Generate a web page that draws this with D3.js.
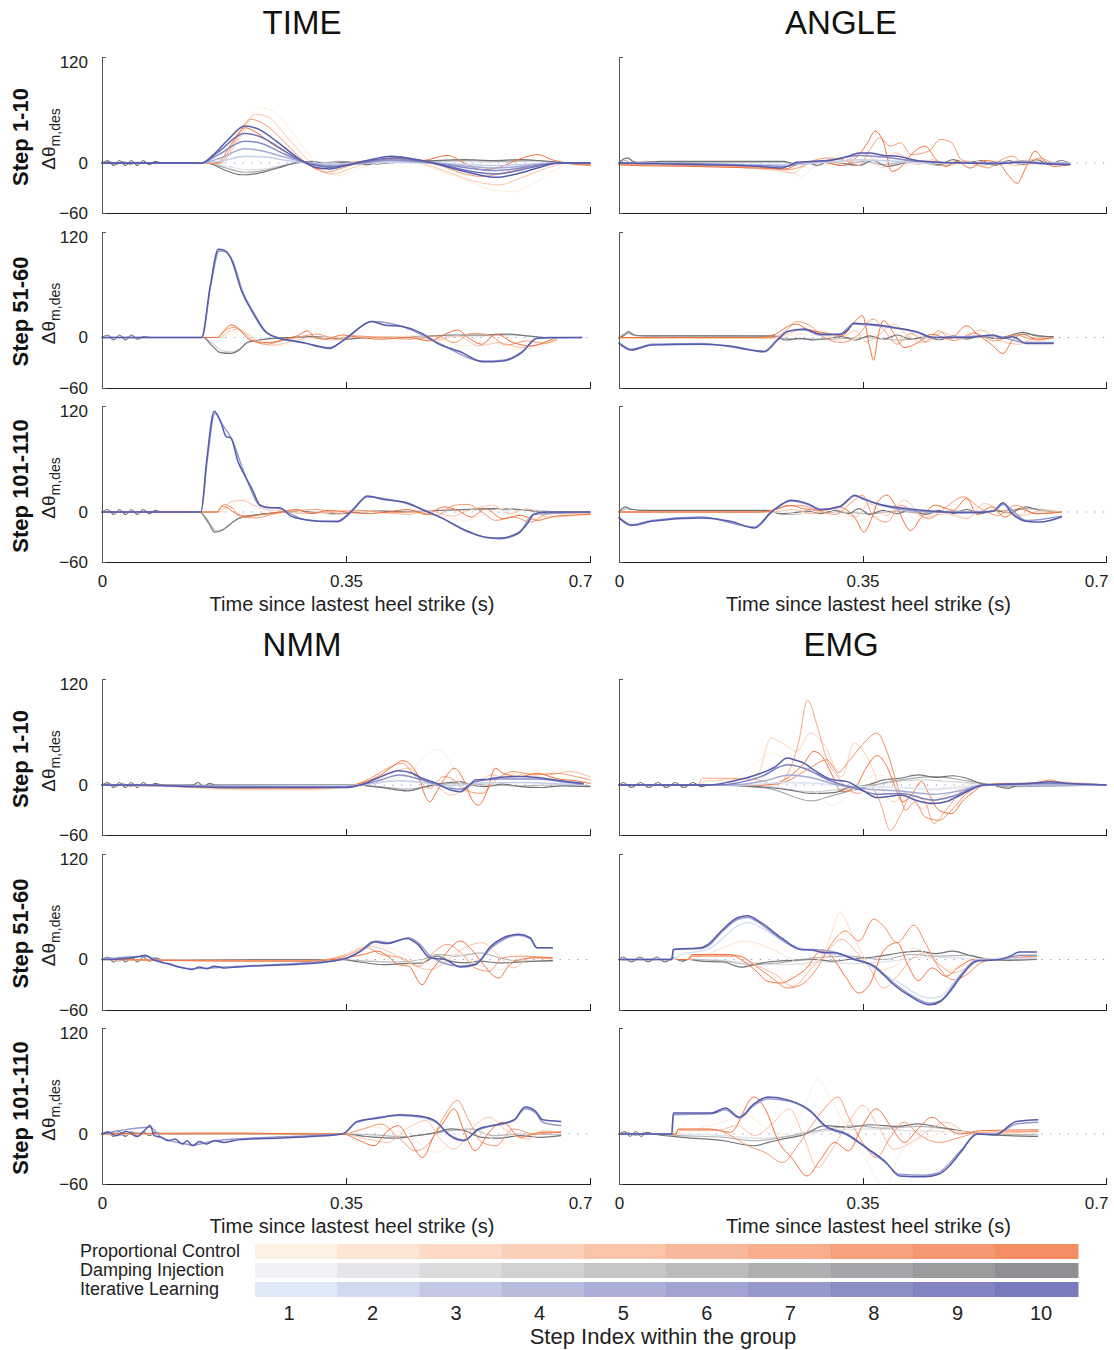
<!DOCTYPE html>
<meta charset="utf-8">
<style>
body { margin: 0; background: #fff; }
svg { font-family: "Liberation Sans", Arial, Helvetica, sans-serif; }
.trace { fill: none; stroke-linejoin: round; stroke-linecap: round; }
.zero { stroke: #8a8fd0; stroke-width: 1.2; stroke-dasharray: 1.2,7.6; }
.axis path, .axis line { stroke: #222; shape-rendering: crispEdges; }
.y.axis path, .y.axis line { stroke: #555; }
.axis text { font-family: "Liberation Sans", Arial, sans-serif; font-size: 17px; fill: #222; }
</style>
<body>
<div id="chart"></div>
</body>
<script src="https://d3js.org/d3.v7.min.js"></script>
<script>

var groups = ["TIME", "ANGLE", "NMM", "EMG"];
var rowLabels = ["Step 1-10", "Step 51-60", "Step 101-110"];
var controllers = ["Proportional Control", "Damping Injection", "Iterative Learning"];
var steps = [1, 2, 3, 4, 5, 6, 7, 8, 9, 10];
var timeTicks = [0, 0.35, 0.7];
var yTicks = [-60, 0, 120];

// traces: [controller (0 PC, 1 DI, 2 IL), step, [t in ms, value, t, value, ...]]
var TIME_1 = [
  [0, 1, [0,0, 172,0, 200,32, 228,66, 248,60, 270,40, 295,12, 318,-10, 340,-15, 365,-8, 400,0, 440,2, 480,-8, 520,-20, 560,-32, 590,-34, 620,-24, 650,-8, 672,0, 700,0]],
  [0, 4, [0,0, 170,0, 195,28, 220,58, 240,54, 262,34, 288,10, 310,-8, 332,-13, 355,-7, 390,2, 430,4, 465,-2, 500,-12, 535,-22, 570,-26, 600,-18, 635,-7, 668,0, 700,-1]],
  [0, 7, [0,0, 168,0, 190,25, 213,52, 235,45, 258,28, 282,8, 302,-5, 322,-11, 345,-6, 375,2, 415,5, 450,2, 485,-3, 515,-12, 545,-16, 575,-12, 605,-6, 630,-2, 665,0, 700,-2]],
  [0, 10, [0,0, 165,0, 185,22, 205,42, 222,36, 245,22, 270,10, 292,0, 312,-7, 335,-4, 360,1, 395,3, 430,7, 460,3, 495,9, 520,0, 545,-8, 570,-5, 600,5, 625,10, 645,4, 665,0, 700,-3]],
  [1, 2, [0,0, 150,0, 180,-4, 208,-8, 236,-7, 262,-2, 290,0, 330,1, 380,0, 430,2, 500,2, 560,1, 620,2, 670,0, 700,0]],
  [1, 6, [0,0, 10,2, 20,-2, 30,2, 40,-2, 50,1, 60,0, 150,0, 178,-6, 205,-11, 232,-9, 258,-4, 282,1, 310,-1, 340,2, 380,-1, 420,1, 470,2, 520,3, 570,2, 620,3, 660,0, 700,-1]],
  [1, 10, [0,0, 8,3, 17,-3, 25,3, 34,-3, 42,3, 51,-3, 59,3, 68,-2, 76,2, 85,0, 150,0, 175,-8, 200,-14, 225,-12, 252,-6, 278,0, 300,2, 325,-1, 350,1, 380,-2, 410,0, 440,2, 480,3, 520,4, 560,3, 600,4, 640,2, 670,0, 700,-1]],
  [2, 2, [0,0, 143,0, 175,3, 205,8, 235,7, 265,3, 300,0, 330,-1, 415,1, 475,0, 565,-3, 655,0, 700,0]],
  [2, 4, [0,0, 143,0, 170,6, 205,17, 232,14, 262,7, 292,1, 330,-3, 415,3, 475,0, 565,-6, 655,0, 700,0]],
  [2, 6, [0,0, 143,0, 165,9, 205,26, 230,23, 258,12, 288,2, 327,-4, 415,4, 475,0, 565,-9, 655,0, 700,0]],
  [2, 8, [0,0, 143,0, 165,12, 205,35, 228,31, 255,18, 285,3, 327,-5, 380,2, 415,6, 475,0, 530,-10, 565,-13, 625,-4, 655,0, 700,0]],
  [2, 10, [0,0, 143,0, 160,10, 180,27, 205,44, 225,40, 250,26, 270,13, 288,2, 305,-5, 327,-7, 350,-3, 380,3, 415,8, 445,5, 475,0, 510,-8, 540,-14, 565,-17, 595,-13, 625,-6, 655,0, 700,0]]
];

var TIME_2 = [
  [0, 1, [0,0, 170,0, 185,5, 198,8, 215,2, 232,-8, 255,-10, 280,-6, 310,-1, 350,1, 400,-1, 450,2, 490,-4, 520,-10, 555,-4, 590,-14, 620,-12, 652,-5]],
  [0, 4, [0,0, 168,0, 182,7, 195,10, 210,3, 225,-6, 248,-9, 270,-5, 300,0, 330,-3, 360,0, 400,1, 450,0, 480,-3, 510,2, 540,-10, 570,-6, 600,-12, 630,-8, 652,-3]],
  [0, 7, [0,0, 165,0, 178,9, 190,12, 202,6, 215,-3, 235,-8, 258,-4, 285,1, 310,4, 335,-2, 360,2, 400,0, 445,-2, 480,2, 505,-6, 530,5, 555,3, 580,-9, 610,-4, 635,-7, 652,-2]],
  [0, 10, [0,0, 165,0, 175,8, 185,15, 197,10, 207,0, 220,-5, 240,-6, 262,-2, 280,2, 295,8, 305,0, 320,-2, 345,3, 370,0, 400,-2, 440,0, 470,-4, 495,5, 510,9, 525,0, 545,-8, 565,4, 590,-6, 615,-10, 640,-4, 652,0]],
  [1, 3, [0,0, 145,0, 160,-8, 172,-16, 188,-17, 200,-12, 212,-5, 235,-2, 270,0, 320,1, 360,-1, 420,1, 480,2, 540,2, 590,3, 640,0, 688,0]],
  [1, 10, [0,0, 8,3, 17,-3, 25,3, 34,-3, 42,3, 51,-2, 60,1, 70,0, 145,0, 158,-10, 170,-18, 185,-19, 198,-14, 208,-6, 225,-3, 245,-1, 270,0, 300,1, 330,-1, 350,-2, 380,0, 420,0, 460,1, 500,3, 540,3, 580,4, 610,2, 640,0, 688,0]],
  [2, 5, [0,0, 143,0, 156,62, 168,103, 177,102, 187,92, 202,54, 218,29, 235,7, 252,0, 293,-7, 327,-12, 352,0, 387,19, 431,13, 481,-6, 547,-28, 575,-27, 602,-17, 624,-1, 688,0]],
  [2, 10, [0,0, 143,0, 155,60, 167,105, 175,104, 185,94, 200,56, 216,30, 233,8, 250,0, 275,-4, 293,-7, 312,-11, 327,-13, 340,-7, 352,0, 368,11, 387,19, 404,15, 431,13, 459,5, 481,-7, 514,-17, 547,-29, 575,-28, 602,-18, 624,-1, 641,0, 688,0]]
];

var TIME_3 = [
  [0, 1, [0,0, 170,0, 190,10, 210,16, 228,12, 250,4, 280,1, 310,-2, 340,0, 380,1, 420,-2, 460,0, 490,-6, 520,-10, 550,-2, 580,5, 610,-8, 640,-3, 700,-1]],
  [0, 4, [0,0, 168,0, 185,12, 200,14, 218,8, 235,3, 260,1, 290,-2, 320,0, 360,2, 400,0, 440,-3, 470,2, 500,-5, 530,3, 560,8, 585,-2, 610,4, 640,-6, 700,-2]],
  [0, 7, [0,0, 165,0, 175,9, 188,4, 200,-6, 222,-7, 248,-2, 275,1, 310,3, 340,-2, 370,2, 410,-1, 450,0, 480,-4, 505,8, 525,9, 545,0, 565,-10, 590,-6, 615,-12, 640,-2, 700,-1]],
  [0, 10, [0,0, 165,0, 172,7, 180,5, 192,-2, 210,-5, 230,-3, 255,0, 280,3, 300,-2, 325,2, 350,0, 380,-2, 410,0, 440,3, 465,-3, 490,6, 510,2, 530,-6, 550,4, 575,-8, 600,-4, 625,-10, 650,-5, 700,-3]],
  [1, 4, [0,0, 140,0, 152,-10, 164,-22, 175,-20, 188,-12, 200,-6, 225,-3, 260,0, 320,0, 380,1, 440,1, 500,2, 560,3, 620,2, 660,0, 700,0]],
  [1, 10, [0,0, 8,3, 17,-3, 25,3, 34,-3, 42,3, 51,-3, 59,3, 68,-2, 76,2, 85,0, 140,0, 152,-12, 162,-24, 172,-22, 183,-15, 195,-8, 208,-5, 225,-3, 250,-1, 280,1, 310,-1, 340,-2, 370,0, 400,1, 440,0, 480,2, 520,3, 560,4, 600,3, 640,-1, 660,0, 700,-1]],
  [2, 5, [0,0, 142,0, 151,62, 162,118, 171,106, 186,87, 206,42, 228,7, 255,4, 290,-9, 338,-12, 360,2, 380,18, 437,10, 487,-7, 525,-24, 570,-32, 597,-26, 619,-3, 700,0]],
  [2, 10, [0,0, 142,0, 150,60, 161,120, 170,108, 178,90, 185,88, 195,60, 205,43, 216,26, 227,8, 240,5, 255,5, 271,-5, 290,-9, 310,-11, 338,-11, 350,-5, 360,3, 372,14, 380,19, 404,15, 437,11, 459,3, 487,-7, 525,-23, 550,-30, 570,-31, 597,-25, 610,-14, 619,-3, 635,0, 700,0]]
];

var ANGLE_1 = [
  [0, 1, [0,-1, 100,-2, 200,-6, 245,-10, 262,-16, 278,-6, 300,-2, 330,2, 360,4, 390,8, 420,0, 450,3, 480,-3, 510,3, 540,-2, 570,1, 600,-2, 625,0, 648,0]],
  [0, 4, [0,-1, 100,-3, 230,-9, 250,-12, 265,-4, 285,1, 305,0, 330,4, 350,12, 365,5, 380,-6, 395,12, 410,8, 430,-2, 450,4, 470,-4, 495,2, 520,-4, 545,2, 570,-3, 600,5, 625,-2, 648,-1]],
  [0, 7, [0,-2, 100,-3, 200,-5, 240,-8, 260,-5, 280,3, 300,6, 325,3, 345,-3, 360,15, 375,30, 390,20, 405,24, 420,10, 445,14, 462,28, 478,24, 492,4, 510,0, 530,-6, 550,4, 565,8, 585,-2, 605,6, 625,0, 648,-1]],
  [0, 10, [0,-2, 20,-3, 100,-4, 200,-6, 240,-7, 255,-2, 275,2, 300,0, 320,-3, 345,10, 358,25, 368,38, 380,25, 392,-10, 405,-5, 420,10, 440,20, 455,5, 470,-4, 485,2, 505,-6, 525,3, 545,0, 560,-15, 572,-24, 585,-5, 598,14, 610,4, 625,-4, 648,-2]],
  [1, 1, [0,0, 30,2, 120,1, 240,0, 300,-2, 360,1, 420,-2, 480,1, 540,2, 600,-1, 648,0]],
  [1, 5, [0,0, 8,3, 20,0, 40,2, 60,0, 120,1, 237,1, 260,-2, 290,2, 320,-3, 350,2, 380,-2, 420,3, 460,-3, 500,2, 540,-2, 580,3, 620,-1, 648,0]],
  [1, 10, [0,0, 5,4, 12,6, 20,2, 30,0, 60,2, 120,2, 200,2, 237,2, 255,-2, 270,1, 285,-3, 300,2, 320,0, 345,-3, 365,3, 385,-4, 410,0, 440,2, 460,-2, 480,4, 500,0, 520,3, 540,-3, 560,3, 580,-2, 600,4, 620,-2, 635,3, 648,0]],
  [2, 2, [0,0, 120,-1, 240,-2, 300,1, 345,4, 380,3, 428,1, 500,0, 648,0]],
  [2, 6, [0,0, 120,-1, 200,-3, 240,-4, 260,0, 300,3, 345,9, 380,7, 428,2, 500,0, 580,1, 648,-1]],
  [2, 10, [0,0, 60,-1, 120,-2, 200,-4, 233,-6, 245,-3, 255,1, 280,2, 309,4, 330,8, 345,12, 360,12, 380,9, 400,8, 428,3, 460,1, 500,0, 540,-1, 580,1, 610,-1, 648,-2]]
];

var ANGLE_2 = [
  [0, 1, [0,0, 230,0, 260,4, 290,2, 330,-4, 360,6, 390,-6, 420,4, 460,-4, 500,5, 540,8, 570,-2, 600,-5, 624,-1]],
  [0, 4, [0,-1, 220,-1, 245,5, 265,10, 290,6, 315,-2, 340,8, 355,-5, 375,4, 395,16, 415,2, 440,-6, 465,6, 490,-2, 520,9, 545,-3, 575,-8, 600,0, 624,-1]],
  [0, 7, [0,0, 220,0, 240,8, 255,19, 275,14, 295,0, 320,-6, 345,4, 365,22, 380,10, 400,-8, 420,5, 440,-5, 460,8, 480,-4, 510,5, 540,-4, 570,3, 600,-3, 624,0]],
  [0, 10, [0,0, 200,0, 225,4, 240,12, 255,16, 270,10, 300,5, 320,2, 340,20, 350,26, 360,-10, 366,-27, 372,0, 380,20, 395,5, 410,-12, 430,-6, 450,4, 475,-2, 500,14, 515,4, 535,-8, 552,-19, 565,-4, 580,4, 600,-2, 624,0]],
  [1, 5, [0,0, 10,5, 25,2, 120,2, 223,1, 250,-2, 300,-2, 350,0, 400,-3, 450,0, 500,1, 550,-1, 581,4, 624,0]],
  [1, 10, [0,-1, 8,3, 13,7, 22,3, 40,2, 120,2, 223,2, 240,-3, 260,-1, 280,-3, 300,-1, 320,1, 340,-3, 360,2, 380,-2, 400,3, 420,-2, 440,1, 460,-3, 480,2, 500,-2, 520,2, 540,-1, 560,2, 581,6, 600,2, 624,1]],
  [2, 5, [0,-6, 18,-14, 47,-8, 118,-7, 209,-16, 228,-2, 245,8, 266,9, 290,3, 318,4, 337,16, 380,13, 428,6, 452,0, 538,2, 585,-6, 624,-6]],
  [2, 10, [0,-7, 18,-15, 47,-9, 118,-8, 160,-10, 209,-17, 228,-3, 242,7, 266,10, 290,4, 318,4, 330,10, 337,17, 357,16, 380,14, 395,12, 428,7, 452,0, 500,0, 538,3, 552,-1, 566,1, 585,-7, 600,-7, 624,-7]]
];

var ANGLE_3 = [
  [0, 1, [0,0, 230,0, 260,-2, 300,2, 340,-10, 370,-5, 400,6, 430,-10, 460,0, 500,-6, 530,4, 560,-4, 600,0, 636,0]],
  [0, 4, [0,0, 220,0, 250,3, 280,-2, 310,4, 340,-6, 360,10, 385,-4, 410,14, 440,-6, 470,-2, 500,-8, 525,10, 555,0, 580,-4, 610,2, 636,0]],
  [0, 7, [0,0, 210,0, 235,6, 260,8, 285,2, 310,-3, 335,12, 350,20, 365,-4, 385,-12, 405,8, 425,0, 445,-8, 470,6, 495,18, 520,4, 545,-4, 570,8, 600,-2, 636,0]],
  [0, 10, [0,0, 200,0, 225,3, 245,8, 265,4, 290,2, 315,6, 340,-8, 352,-24, 362,-10, 372,12, 385,20, 400,4, 419,-22, 435,-6, 455,8, 480,2, 500,16, 515,-3, 535,6, 555,-6, 575,4, 600,-2, 636,0]],
  [1, 5, [0,0, 12,4, 30,2, 120,1, 215,1, 240,-3, 280,-1, 320,0, 360,-2, 400,1, 440,-2, 480,1, 520,0, 560,2, 585,4, 636,0]],
  [1, 10, [0,0, 9,6, 18,3, 40,2, 120,2, 215,2, 230,-2, 250,-1, 270,1, 290,-2, 310,2, 330,-2, 345,4, 360,-3, 380,2, 400,-2, 420,3, 440,-3, 460,2, 480,-2, 500,3, 520,-2, 540,2, 560,-1, 585,6, 605,2, 636,0]],
  [2, 5, [0,-6, 18,-15, 47,-10, 118,-6, 195,-18, 218,0, 247,13, 271,9, 290,3, 318,6, 338,19, 376,8, 452,0, 538,1, 552,9, 585,-10, 636,-5]],
  [2, 10, [0,-7, 18,-16, 47,-11, 118,-7, 160,-11, 195,-19, 218,-1, 232,8, 247,14, 271,10, 290,3, 318,7, 330,15, 338,20, 352,15, 376,9, 404,5, 452,1, 500,-1, 538,1, 552,11, 564,-1, 585,-11, 605,-12, 636,-6]]
];

var NMM_1 = [
  [0, 1, [0,0, 100,-2, 200,-6, 300,-6, 360,-2, 400,4, 440,14, 460,32, 481,42, 498,30, 515,0, 530,-14, 550,-6, 570,8, 600,14, 630,10, 660,18, 690,12, 700,8]],
  [0, 4, [0,0, 100,-2, 200,-5, 300,-5, 360,-1, 400,10, 440,20, 460,6, 481,-2, 500,-12, 520,-6, 540,4, 560,12, 580,8, 610,14, 640,12, 670,16, 700,10]],
  [0, 7, [0,0, 100,-1, 200,-4, 300,-4, 360,0, 385,8, 410,20, 430,26, 450,10, 470,-4, 490,10, 505,6, 520,-6, 545,-10, 565,6, 590,16, 620,12, 650,14, 680,10, 700,6]],
  [0, 10, [0,0, 60,0, 120,-1, 200,-2, 280,-3, 340,-2, 371,2, 400,12, 420,24, 431,29, 445,22, 455,8, 463,-12, 470,-20, 480,-8, 495,12, 505,20, 520,4, 531,-18, 540,-24, 552,-8, 564,20, 575,14, 600,10, 625,14, 650,8, 680,5, 700,2]],
  [1, 5, [0,0, 10,2, 20,-2, 30,2, 40,-2, 50,0, 360,0, 400,-2, 437,-5, 470,-1, 514,2, 550,0, 600,-1, 650,0, 700,-1]],
  [1, 10, [0,0, 8,3, 17,-3, 25,3, 34,-3, 42,3, 51,-3, 59,3, 68,-2, 76,2, 85,0, 130,0, 138,3, 146,-2, 154,2, 162,0, 360,0, 380,-1, 410,-4, 437,-7, 460,-3, 480,1, 500,3, 514,4, 530,0, 550,-2, 575,1, 600,-2, 630,-3, 660,-1, 700,-2]],
  [2, 2, [0,0, 128,-1, 349,-1, 380,1, 426,5, 459,3, 500,-1, 536,2, 600,3, 669,1, 690,0]],
  [2, 6, [0,0, 128,-1, 280,-2, 349,-2, 371,0, 400,6, 426,12, 459,6, 500,-4, 514,-5, 536,4, 569,7, 624,7, 669,3, 690,1]],
  [2, 10, [0,0, 60,0, 128,-2, 200,-3, 280,-3, 349,-3, 371,0, 395,8, 426,17, 445,14, 459,8, 480,2, 500,-6, 514,-8, 525,-2, 536,6, 555,7, 569,9, 600,10, 624,9, 650,6, 669,4, 690,2]]
];

var NMM_2 = [
  [0, 1, [0,0, 200,-1, 300,-2, 360,8, 390,18, 420,12, 450,0, 480,-6, 510,6, 540,-6, 570,-12, 600,4, 646,0]],
  [0, 4, [0,0, 200,-2, 300,-2, 349,6, 380,16, 410,10, 440,-4, 470,-12, 495,-2, 520,14, 545,20, 570,4, 590,-10, 615,2, 646,1]],
  [0, 7, [0,0, 200,-1, 300,-1, 349,4, 380,14, 400,6, 430,2, 455,-8, 475,8, 495,18, 515,8, 535,-10, 555,-14, 575,2, 600,4, 646,2]],
  [0, 10, [0,0, 100,-1, 200,-2, 300,-2, 349,2, 375,6, 395,10, 410,4, 425,-6, 440,-8, 459,-30, 472,-14, 490,4, 514,22, 530,12, 545,-4, 569,-22, 585,-6, 600,0, 620,2, 646,2]],
  [1, 5, [0,0, 12,2, 24,-2, 36,2, 48,0, 340,0, 380,-2, 420,-3, 460,0, 481,6, 510,4, 542,8, 570,2, 600,-2, 646,-2]],
  [1, 10, [0,0, 8,3, 17,-3, 25,3, 34,-3, 42,3, 51,-3, 59,3, 68,-2, 76,2, 85,0, 340,0, 370,-3, 404,-6, 430,-5, 459,-4, 481,4, 500,-2, 520,-4, 542,-2, 570,-4, 600,-3, 646,-1]],
  [2, 5, [0,0, 62,4, 89,-4, 128,-11, 194,-8, 293,-4, 349,1, 375,12, 395,22, 412,20, 440,26, 456,18, 472,3, 514,-8, 536,-5, 560,15, 597,29, 614,25, 624,14, 646,14]],
  [2, 10, [0,0, 30,1, 50,3, 62,5, 73,0, 89,-4, 100,-6, 110,-9, 117,-10, 128,-12, 140,-9, 150,-11, 161,-8, 175,-10, 194,-9, 210,-8, 238,-7, 293,-5, 330,-2, 349,1, 371,10, 390,21, 409,19, 437,25, 453,18, 470,2, 492,0, 514,-9, 536,-6, 558,16, 597,30, 614,26, 624,14, 646,14]]
];

var NMM_3 = [
  [0, 1, [0,0, 200,1, 345,1, 385,8, 420,4, 450,-8, 480,-22, 500,-10, 530,12, 560,-6, 590,-12, 620,4, 658,2]],
  [0, 4, [0,0, 200,0, 345,0, 380,-6, 410,-10, 440,8, 465,16, 485,-6, 505,-18, 530,6, 555,20, 580,4, 610,-6, 635,4, 658,1]],
  [0, 7, [0,0, 200,1, 345,0, 375,6, 400,12, 425,-4, 450,-20, 470,-10, 490,20, 510,40, 525,18, 545,-10, 565,-14, 590,6, 620,0, 658,3]],
  [0, 10, [0,0, 100,1, 200,1, 300,0, 345,0, 370,-8, 390,-14, 410,4, 425,10, 440,-6, 460,-28, 475,-4, 490,14, 505,30, 520,2, 535,-20, 555,2, 575,14, 600,-4, 630,2, 658,2]],
  [1, 5, [0,0, 15,2, 30,-2, 45,2, 60,0, 345,0, 390,-1, 430,-3, 470,0, 500,4, 530,6, 560,-2, 600,0, 658,-1]],
  [1, 10, [0,0, 8,3, 17,-3, 25,3, 34,-3, 42,3, 51,-3, 59,3, 68,-2, 76,2, 85,0, 345,0, 380,-3, 420,-5, 450,-2, 480,2, 500,6, 520,4, 545,-4, 570,-5, 600,-2, 630,-4, 658,-2]],
  [2, 5, [0,0, 69,8, 85,-4, 115,-11, 130,-13, 161,-8, 212,-5, 300,-2, 345,0, 366,14, 427,22, 458,20, 479,14, 499,-1, 519,-7, 540,5, 591,16, 607,30, 622,25, 632,14, 658,10]],
  [2, 10, [0,0, 10,2, 20,-2, 35,3, 50,-3, 62,5, 69,10, 75,-2, 85,-4, 95,-8, 105,-6, 115,-12, 122,-8, 130,-14, 140,-9, 150,-12, 161,-8, 175,-10, 195,-7, 212,-6, 250,-5, 300,-3, 345,0, 366,15, 397,19, 427,23, 458,21, 479,15, 499,-2, 519,-8, 540,6, 560,10, 591,17, 607,32, 622,27, 632,17, 658,15]]
];

var EMG_1 = [
  [0, 1, [0,0, 113,0, 130,4, 170,10, 200,28, 218,38, 240,30, 262,8, 285,-10, 305,-24, 330,-12, 350,4, 375,12, 400,-6, 430,-10, 460,-4, 500,0, 600,2, 700,0]],
  [0, 3, [0,0, 113,0, 125,5, 160,6, 200,14, 218,56, 235,50, 255,40, 275,62, 295,48, 320,10, 338,50, 355,36, 375,0, 395,-20, 415,-8, 435,-28, 455,-18, 480,-8, 510,-2, 560,0, 620,4, 700,0]],
  [0, 6, [0,0, 113,0, 120,8, 150,8, 200,6, 225,0, 240,10, 258,50, 271,101, 285,70, 299,30, 315,10, 330,-6, 345,-10, 360,0, 375,-20, 390,-54, 405,-35, 420,-12, 440,-20, 452,-46, 470,-30, 495,-6, 524,0, 700,0]],
  [0, 8, [0,0, 210,0, 240,4, 270,18, 299,30, 315,15, 330,28, 350,48, 371,62, 385,40, 400,0, 412,-30, 425,-20, 440,-38, 460,-42, 478,-30, 500,-10, 524,0, 600,3, 620,6, 640,2, 700,0]],
  [0, 10, [0,0, 200,0, 225,2, 245,10, 265,25, 280,40, 292,34, 305,14, 320,-8, 340,-2, 355,20, 371,35, 385,22, 395,2, 408,-20, 420,-12, 435,4, 445,-10, 460,-30, 478,-34, 495,-18, 510,-8, 524,0, 560,2, 700,0]],
  [1, 3, [0,0, 128,0, 214,-2, 276,-8, 320,-5, 380,2, 430,6, 480,4, 538,0, 700,0]],
  [1, 6, [0,0, 128,0, 214,-4, 276,-19, 309,-12, 357,-2, 404,6, 455,10, 500,5, 538,0, 560,-2, 700,0]],
  [1, 10, [0,0, 6,3, 18,-3, 31,3, 43,-3, 56,3, 68,-3, 81,3, 93,-3, 106,3, 118,-2, 128,0, 180,-1, 214,-3, 245,-6, 276,-10, 309,-9, 330,-3, 357,0, 380,6, 404,8, 430,12, 455,9, 480,11, 500,8, 520,2, 538,0, 550,-3, 560,-4, 575,0, 700,0]],
  [2, 1, [0,0, 180,0, 240,3, 280,2, 330,-1, 404,-3, 452,-5, 500,-2, 524,0, 700,0]],
  [2, 4, [0,0, 160,0, 210,5, 245,12, 275,9, 310,1, 360,-5, 404,-7, 452,-11, 490,-7, 524,0, 700,0]],
  [2, 7, [0,0, 140,0, 204,10, 242,24, 266,20, 304,5, 340,-4, 371,-11, 404,-10, 452,-18, 481,-13, 524,0, 620,2, 700,0]],
  [2, 10, [0,0, 128,0, 160,4, 204,14, 225,22, 242,32, 252,30, 266,26, 280,18, 304,7, 328,4, 350,-6, 371,-15, 385,-14, 404,-12, 430,-19, 452,-22, 470,-20, 481,-16, 505,-6, 524,0, 595,2, 620,4, 643,2, 700,0]]
];

var EMG_2 = [
  [0, 2, [0,0, 99,0, 115,3, 150,14, 180,22, 210,16, 240,4, 270,-8, 300,18, 318,56, 335,30, 355,0, 375,-12, 400,-6, 425,14, 450,0, 475,-12, 500,-6, 530,0, 600,2]],
  [0, 5, [0,0, 99,0, 110,5, 170,5, 200,-8, 225,-18, 250,-32, 275,-12, 300,10, 320,24, 340,10, 360,-10, 380,-34, 400,-20, 420,0, 440,8, 460,-6, 480,-16, 500,-10, 520,0, 600,3]],
  [0, 8, [0,0, 99,0, 105,4, 170,4, 200,-10, 220,-22, 242,-34, 262,-30, 285,-10, 305,18, 325,34, 345,22, 366,48, 380,40, 400,20, 424,41, 440,20, 460,-10, 480,-24, 500,-18, 520,-4, 540,0, 600,4]],
  [0, 10, [0,0, 99,0, 105,6, 160,6, 175,0, 195,-12, 214,-26, 233,-28, 250,-22, 270,-10, 290,10, 305,4, 325,-20, 345,-40, 360,-30, 380,10, 400,20, 415,-6, 430,-25, 450,-10, 470,-20, 490,-8, 510,0, 600,2]],
  [1, 2, [0,0, 120,0, 180,-3, 240,-6, 290,-3, 340,-5, 390,-2, 440,3, 500,1, 533,0, 600,0]],
  [1, 5, [0,0, 100,0, 150,-2, 190,-6, 230,-4, 280,2, 330,4, 380,0, 420,6, 460,4, 500,5, 533,0, 600,0]],
  [1, 10, [0,0, 6,3, 18,-3, 30,3, 42,-3, 54,3, 66,-3, 78,2, 90,-2, 100,0, 118,-2, 150,-3, 175,-9, 195,-6, 214,-3, 250,-1, 280,0, 309,-2, 338,1, 366,3, 390,6, 404,8, 430,10, 455,7, 480,10, 500,6, 533,0, 560,-1, 600,0]],
  [2, 1, [0,0, 78,0, 90,6, 128,12, 171,40, 185,44, 204,38, 240,20, 280,10, 338,1, 395,-24, 447,-46, 462,-44, 490,-18, 514,0, 600,2]],
  [2, 5, [0,0, 76,0, 78,12, 118,13, 128,16, 147,32, 171,48, 185,50, 204,42, 233,24, 261,12, 280,12, 309,9, 338,1, 366,-7, 395,-28, 419,-42, 447,-52, 462,-49, 490,-20, 514,-1, 547,0, 576,5, 600,5]],
  [2, 10, [0,0, 76,0, 78,12, 100,13, 118,14, 128,18, 147,34, 171,50, 185,52, 204,44, 233,26, 261,12, 280,11, 295,8, 309,8, 338,0, 366,-8, 380,-18, 395,-30, 419,-44, 447,-54, 462,-50, 476,-38, 490,-22, 514,-2, 547,0, 562,4, 576,9, 600,9]]
];

var EMG_3 = [
  [0, 1, [0,0, 90,0, 120,8, 150,14, 180,24, 210,8, 240,0, 265,30, 286,65, 305,40, 330,4, 355,-30, 383,-65, 400,-30, 420,-10, 450,-2, 480,4, 520,0, 602,2]],
  [0, 4, [0,0, 82,0, 90,4, 140,4, 170,10, 195,-2, 220,12, 245,30, 265,-2, 285,-40, 305,-20, 330,14, 350,34, 372,10, 395,-18, 420,-10, 445,4, 470,14, 500,2, 530,0, 602,4]],
  [0, 7, [0,0, 82,0, 85,5, 140,5, 165,-4, 185,-14, 210,-22, 235,-34, 255,-16, 275,8, 295,30, 315,44, 330,20, 350,-10, 370,-28, 390,-4, 410,14, 430,0, 460,-10, 490,-4, 520,2, 602,3]],
  [0, 10, [0,0, 82,0, 85,6, 130,6, 160,2, 194,44, 210,30, 230,-10, 250,-30, 270,-50, 290,-30, 310,-10, 330,-20, 350,10, 370,30, 390,10, 410,-10, 430,6, 450,20, 470,8, 490,0, 520,4, 602,5]],
  [1, 2, [0,0, 92,0, 150,-2, 200,-5, 250,-2, 300,4, 360,6, 420,4, 470,3, 520,0, 602,0]],
  [1, 5, [0,0, 12,2, 24,-2, 36,2, 50,0, 92,-2, 150,-4, 194,-8, 235,-4, 270,2, 300,6, 340,10, 380,7, 430,9, 470,6, 520,0, 602,-1]],
  [1, 10, [0,0, 8,3, 16,-3, 24,3, 32,-3, 40,2, 50,0, 92,-4, 150,-8, 194,-14, 215,-10, 235,-6, 265,-1, 296,10, 330,8, 360,11, 400,9, 430,12, 460,8, 490,4, 520,0, 560,-2, 602,-3]],
  [2, 5, [0,0, 76,0, 78,23, 133,24, 153,29, 173,19, 194,34, 214,42, 245,39, 276,26, 296,9, 327,-1, 357,-18, 383,-34, 403,-48, 439,-49, 459,-46, 490,-21, 515,0, 541,0, 571,12, 602,14]],
  [2, 10, [0,0, 76,0, 78,25, 133,25, 153,31, 173,20, 194,36, 214,44, 245,40, 276,27, 296,10, 327,0, 357,-17, 383,-33, 403,-50, 439,-51, 459,-48, 475,-38, 490,-23, 515,0, 541,-1, 571,15, 602,17]]
];

var panelData = [
  [TIME_1, TIME_2, TIME_3],
  [ANGLE_1, ANGLE_2, ANGLE_3],
  [NMM_1, NMM_2, NMM_3],
  [EMG_1, EMG_2, EMG_3]
];

// line colours per controller, step 1..10
var pcColors = ["#fdeede", "#fddfca", "#fbd1b8", "#fac3a6", "#f9b594", "#f8a682", "#f6996f", "#f58b5e", "#f37e4e", "#f1713c"];
var diColors = ["#eeeff2", "#dfe0e3", "#d1d2d5", "#c4c5c8", "#b6b7ba", "#a9aaad", "#9b9c9f", "#8f9093", "#818285", "#737478"];
var ilColors = ["#d7e2f3", "#c4d0ea", "#b4bae0", "#a5aad6", "#969bcd", "#898dc7", "#7c80be", "#6e72b7", "#6265b0", "#565bab"];
var palettes = [pcColors, diColors, ilColors];
var strokeW = [1, 1.2, 1.5];
var drawOrder = [1, 0, 2];

var W = 1114, H = 1350;
var colX = [[102, 590], [619, 1106]];
var rowZero = [163, 337.5, 512];
var bandShift = 622;
var titleX = [302, 841];

var svg = d3.select("#chart").append("svg")
    .attr("width", W)
    .attr("height", H);

// monotone in x: passes through each read point without overshooting flat parts
var line = d3.line()
    .curve(d3.curveMonotoneX)
    .x(function(d) { return d.x; })
    .y(function(d) { return d.y; });

function minus(d) { return d < 0 ? "\u2212" + Math.abs(d) : d; }

groups.forEach(function(name, gi) {
  var col = gi % 2, band = Math.floor(gi / 2);
  var x = d3.scaleLinear().domain([0, 0.7]).range(colX[col]);

  svg.append("text")
      .attr("x", titleX[col])
      .attr("y", 34 + band * bandShift)
      .attr("text-anchor", "middle")
      .style("font-size", "33px")
      .style("fill", "#111")
      .text(name);

  panelData[gi].forEach(function(traces, r) {
    var zero = rowZero[r] + band * bandShift;
    var y = d3.scaleLinear().domain([-60, 120]).range([zero + 50.4, zero - 100.8]);
    var g = svg.append("g");

    // zero reference
    g.append("line")
        .attr("class", "zero")
        .attr("x1", x(0)).attr("x2", x(0.7))
        .attr("y1", y(0)).attr("y2", y(0));

    // traces
    drawOrder.forEach(function(c) {
      traces.filter(function(t) { return t[0] === c; })
        .sort(function(a, b) { return a[1] - b[1]; })
        .forEach(function(t) {
          var pts = [];
          for (var i = 0; i < t[2].length; i += 2)
            pts.push({x: x(t[2][i] / 1000), y: y(t[2][i + 1])});
          g.append("path")
              .attr("class", "trace")
              .attr("d", line(pts))
              .style("stroke", palettes[c][t[1] - 1])
              .style("stroke-width", strokeW[c]);
        });
    });

    // x axis
    var last = r === 2;
    var xAxis = d3.axisBottom(x)
        .tickValues(timeTicks)
        .tickSizeInner(-6)
        .tickSizeOuter(0)
        .tickPadding(13)
        .tickFormat(function(d) { return last ? String(d) : ""; });
    var xg = g.append("g")
        .attr("class", "x axis")
        .attr("transform", "translate(0," + y(-60) + ")")
        .call(xAxis);
    xg.selectAll(".tick text")
        .filter(function(d) { return d === 0.7; })
        .attr("text-anchor", "end")
        .attr("x", 2);

    // y axis
    var yAx = y.copy().domain([-60, 126]).range([y(-60), y(126)]);
    var yAxis = d3.axisLeft(yAx)
        .tickValues(col === 0 ? yTicks : [])
        .tickSizeInner(0)
        .tickSizeOuter(-4)
        .tickPadding(14)
        .tickFormat(minus);
    g.append("g")
        .attr("class", "y axis")
        .attr("transform", "translate(" + x(0) + ",0)")
        .call(yAxis);

    if (col === 0) {
      var mid = zero - 26;
      g.append("text")
          .attr("transform", "translate(28," + mid + ") rotate(-90)")
          .attr("text-anchor", "middle")
          .style("font-size", "22px")
          .style("font-weight", "bold")
          .style("fill", "#111")
          .text(rowLabels[r]);
      var lab = g.append("text")
          .attr("transform", "translate(55," + (zero - 24) + ") rotate(-90)")
          .attr("text-anchor", "middle")
          .style("font-size", "19px")
          .style("fill", "#222");
      lab.append("tspan").text("\u0394\u03b8");
      lab.append("tspan").attr("dy", 5).style("font-size", "14px").text("m,des");
    }

    if (last) {
      g.append("text")
          .attr("x", (colX[col][0] + colX[col][1]) / 2 + 6)
          .attr("y", zero + 99)
          .attr("text-anchor", "middle")
          .style("font-size", "20px")
          .style("fill", "#222")
          .text("Time since lastest heel strike (s)");
    }
  });
});

// legend
var legend = svg.append("g");
var band = d3.scaleBand().domain(steps).range([255, 1078]);
var legendY = [1244, 1263, 1282];
controllers.forEach(function(name, c) {
  legend.append("text")
      .attr("x", 80)
      .attr("y", legendY[c] + 13)
      .style("font-size", "18px")
      .style("fill", "#222")
      .text(name);
  legend.selectAll(null)
      .data(steps)
    .enter().append("rect")
      .attr("x", function(d) { return band(d); })
      .attr("y", legendY[c])
      .attr("width", band.bandwidth() + 0.5)
      .attr("height", 15)
      .style("fill", function(d) { return palettes[c][d - 1]; })
      .style("fill-opacity", 0.8);
});
var num = d3.scaleLinear().domain([1, 10]).range([289, 1041]);
legend.selectAll(null)
    .data(steps)
  .enter().append("text")
    .attr("x", function(d) { return num(d); })
    .attr("y", 1320)
    .attr("text-anchor", "middle")
    .style("font-size", "20px")
    .style("fill", "#222")
    .text(function(d) { return d; });
legend.append("text")
    .attr("x", 663)
    .attr("y", 1344)
    .attr("text-anchor", "middle")
    .style("font-size", "22px")
    .style("fill", "#222")
    .text("Step Index within the group");

</script>
